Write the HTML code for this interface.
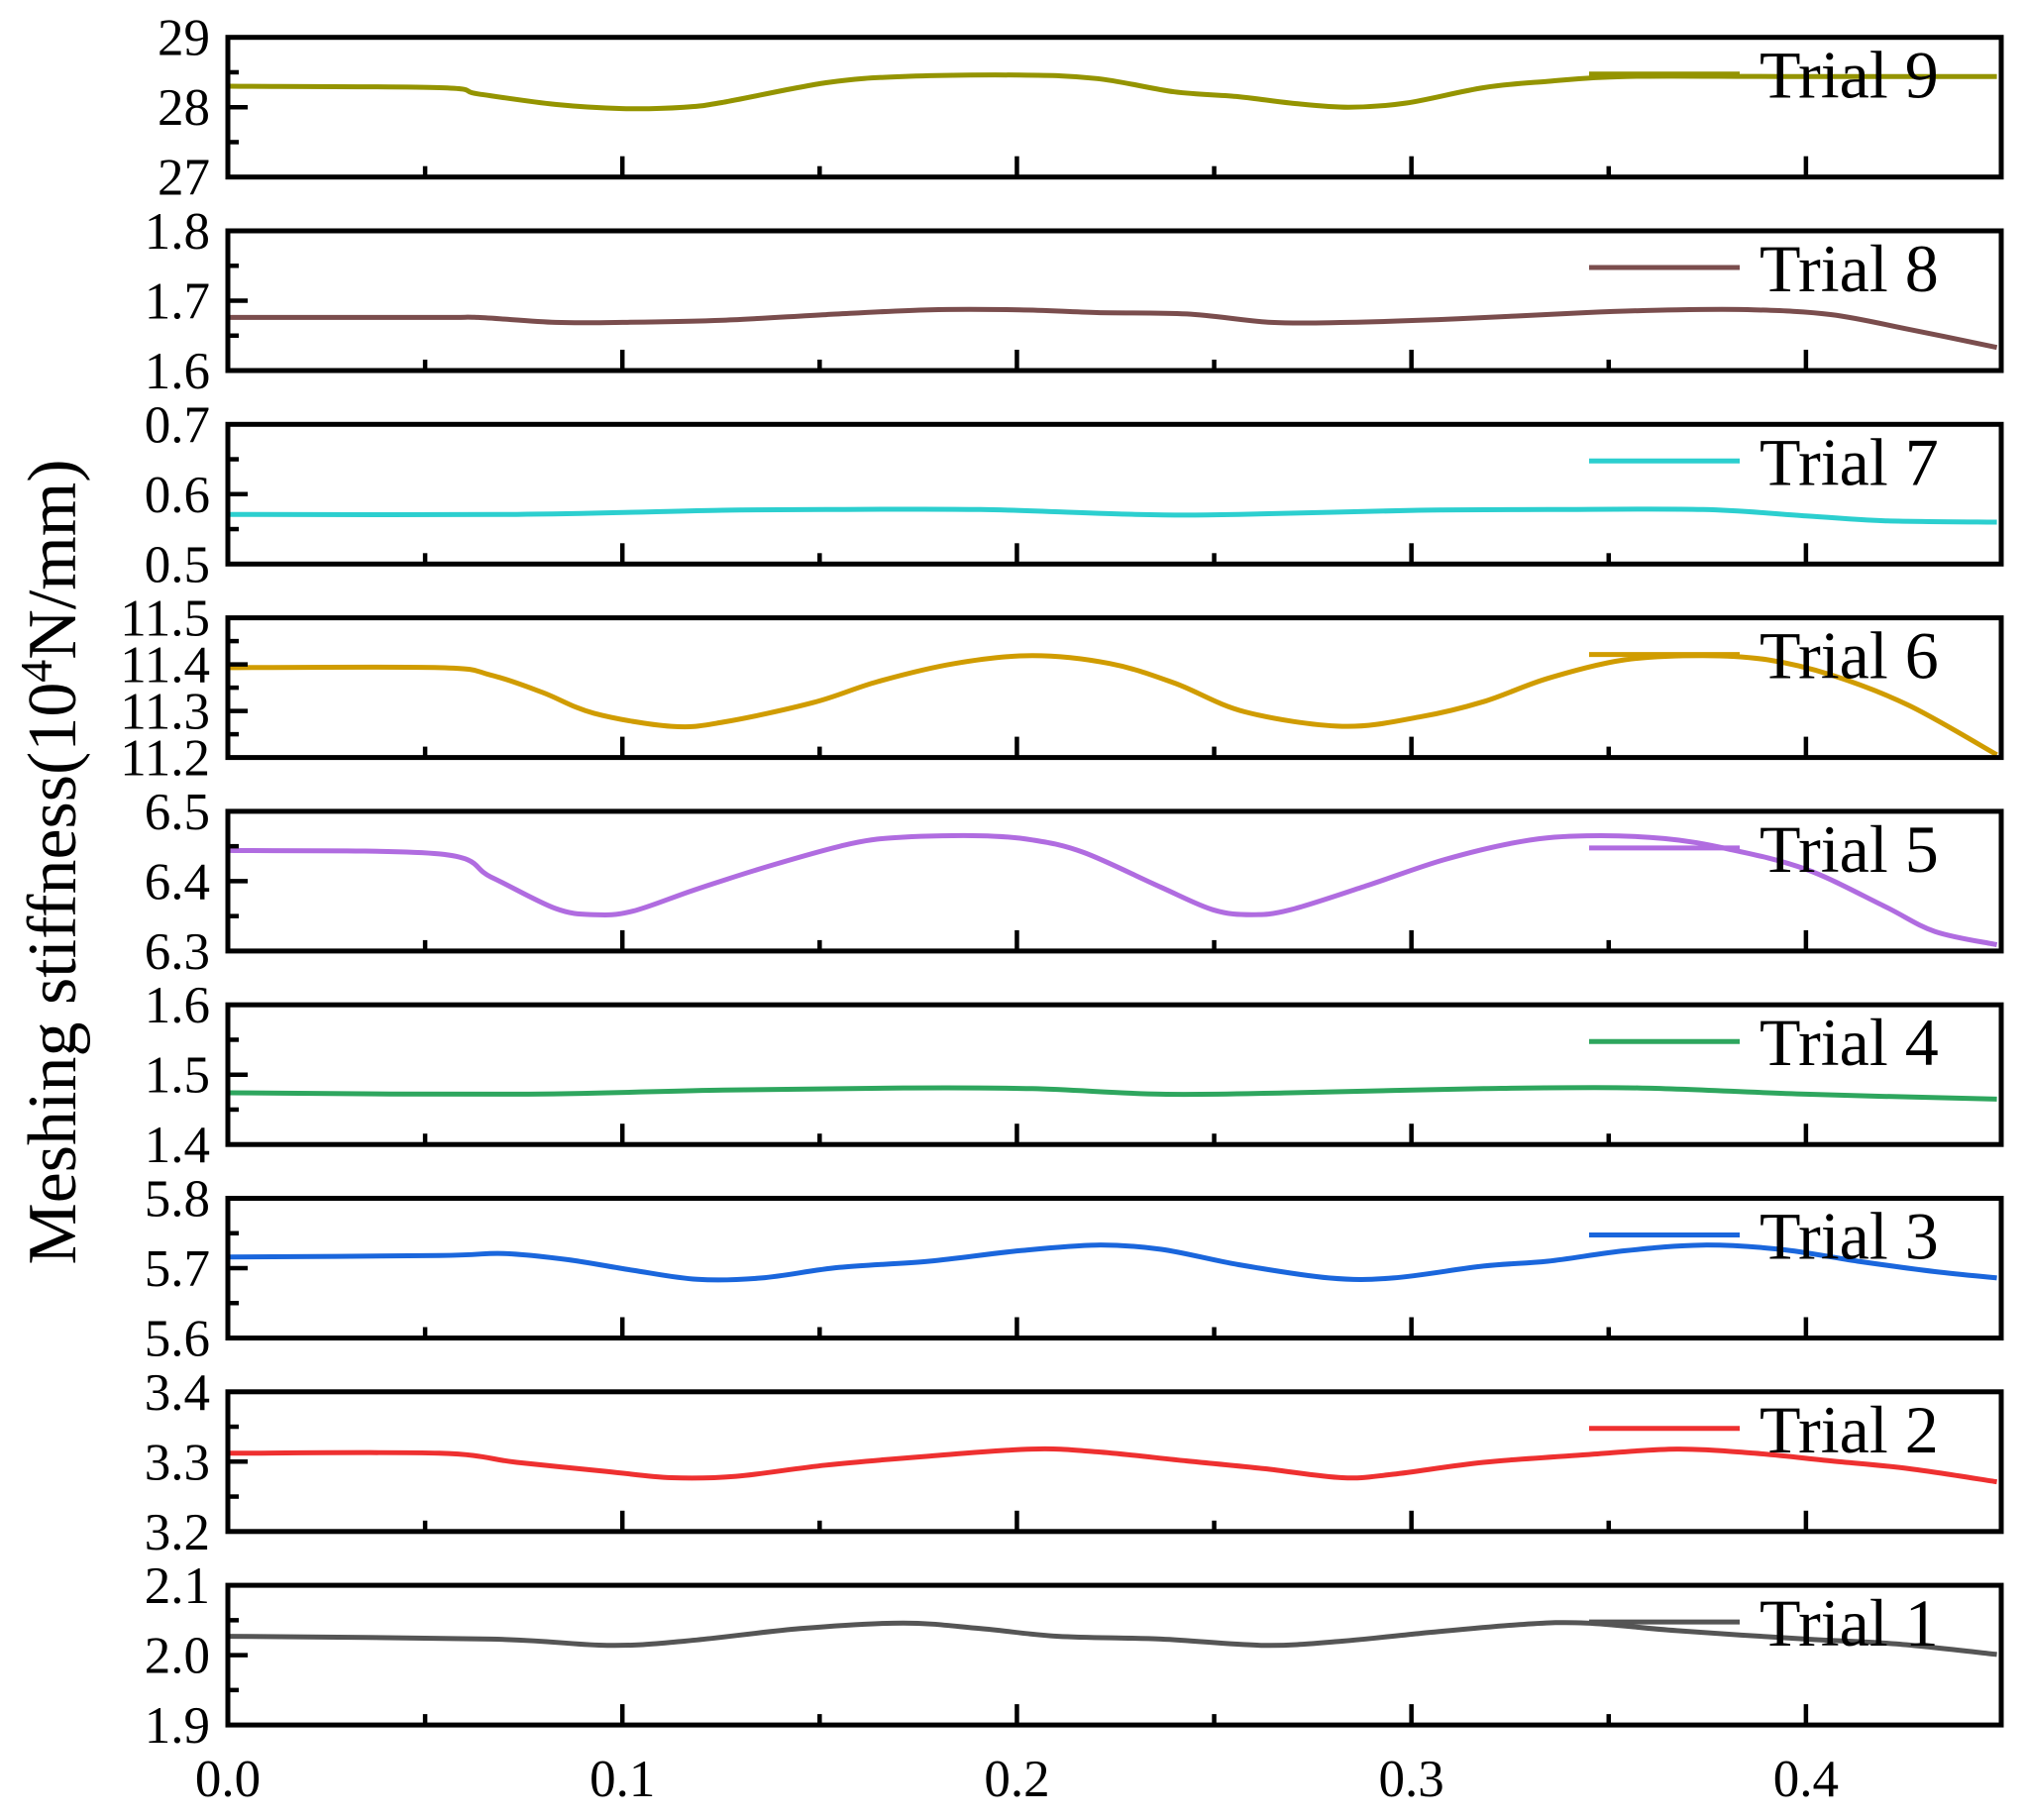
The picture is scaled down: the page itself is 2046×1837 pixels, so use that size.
<!DOCTYPE html>
<html><head><meta charset="utf-8"><style>
html,body{margin:0;padding:0;background:#fff;}
svg{display:block;font-family:"Liberation Serif",serif;}
</style></head><body>
<svg id="chart" width="2046" height="1837" viewBox="0 0 2046 1837" xmlns="http://www.w3.org/2000/svg"></svg>
<script>
const xTicks = [0.0, 0.1, 0.2, 0.3, 0.4];
const xTickLabels = ["0.0", "0.1", "0.2", "0.3", "0.4"];
const trialNames = ["Trial 9","Trial 8","Trial 7","Trial 6","Trial 5","Trial 4","Trial 3","Trial 2","Trial 1"];
const trialColors = ["#949400","#7a4d4d","#2ccfcf","#d09c00","#b06ce0","#2ea65e","#1a66dc","#ee3030","#555555"];
const yMins = [27, 1.6, 0.5, 11.2, 6.3, 1.4, 5.6, 3.2, 1.9];
const yMaxs = [29, 1.8, 0.7, 11.5, 6.5, 1.6, 5.8, 3.4, 2.1];
const yTickLabels = [["27","28","29"],["1.6","1.7","1.8"],["0.5","0.6","0.7"],["11.2","11.3","11.4","11.5"],["6.3","6.4","6.5"],["1.4","1.5","1.6"],["5.6","5.7","5.8"],["3.2","3.3","3.4"],["1.9","2.0","2.1"]];
const x9 = [0,.0536,.0634,.0830,.1,.1157,.1255,.1516,.1712,.2007,.2203,.2399,.2562,.2693,.2840,.2987,.3183,.3346,.3542,.3935,.4484];
const y9 = [28.30,28.28,28.19,28.04,27.98,28.0,28.07,28.35,28.44,28.46,28.41,28.22,28.15,28.06,28.0,28.06,28.28,28.37,28.44,28.44,28.44];
const x8 = [0,.0536,.0634,.0830,.1,.1255,.1516,.1778,.2007,.2203,.2431,.2644,.2840,.3118,.3444,.3673,.3869,.4065,.4261,.4484];
const y8 = [1.676,1.676,1.676,1.669,1.669,1.672,1.680,1.687,1.687,1.683,1.681,1.669,1.669,1.674,1.683,1.687,1.687,1.680,1.659,1.633];
const x7 = [0,.0732,.1255,.1516,.1908,.2301,.2562,.3020,.3346,.3739,.4,.4196,.4484];
const y7 = [0.571,0.571,0.577,0.578,0.578,0.571,0.571,0.577,0.578,0.578,0.569,0.562,0.560];
const x6 = [0,.0536,.0667,.0797,.0928,.1124,.1255,.1484,.1647,.1843,.2039,.2235,.2399,.2578,.2824,.3020,.3183,.3346,.3542,.3739,.3902,.4065,.4261,.4484];
const y6 = [11.393,11.393,11.377,11.34,11.295,11.267,11.276,11.318,11.363,11.402,11.419,11.402,11.36,11.298,11.267,11.287,11.32,11.37,11.41,11.419,11.41,11.377,11.312,11.206];
const x5 = [0,.0536,.0667,.0830,.0928,.1026,.1190,.1386,.1582,.1712,.1908,.2039,.2170,.2366,.2497,.2595,.2693,.2889,.3085,.3281,.3444,.3641,.3804,.4,.4196,.4327,.4484];
const y5 = [6.444,6.439,6.406,6.361,6.352,6.357,6.389,6.424,6.454,6.463,6.465,6.459,6.441,6.391,6.359,6.352,6.359,6.394,6.431,6.457,6.465,6.461,6.446,6.417,6.365,6.328,6.309];
const x4 = [0,.0732,.1255,.1712,.2039,.2366,.2693,.3183,.3575,.4,.4484];
const y4 = [1.474,1.472,1.478,1.481,1.480,1.472,1.474,1.480,1.481,1.472,1.465];
const x3 = [0,.0536,.0699,.0863,.1026,.1190,.1353,.1549,.1778,.2007,.2203,.2366,.2562,.2791,.2954,.3183,.3346,.3542,.3739,.3935,.4131,.4327,.4484];
const y3 = [5.716,5.718,5.721,5.712,5.697,5.684,5.686,5.701,5.710,5.725,5.733,5.727,5.705,5.686,5.686,5.703,5.710,5.725,5.733,5.727,5.710,5.695,5.686];
const x2 = [0,.0536,.0732,.0961,.1124,.1288,.1516,.1778,.2039,.2203,.2431,.2627,.2824,.2954,.3183,.3444,.3673,.3869,.4065,.4261,.4484];
const y2 = [3.312,3.312,3.299,3.286,3.277,3.279,3.295,3.308,3.318,3.314,3.301,3.290,3.277,3.282,3.299,3.310,3.318,3.312,3.301,3.290,3.271];
const x1 = [0,.0667,.0961,.1157,.1451,.1712,.1908,.2105,.2366,.2627,.2824,.3020,.3281,.3444,.3673,.4,.4229,.4484];
const y1 = [2.027,2.023,2.014,2.020,2.038,2.046,2.038,2.027,2.023,2.014,2.020,2.031,2.044,2.046,2.035,2.023,2.016,2.001];
const seriesX = [x9,x8,x7,x6,x5,x4,x3,x2,x1];
const seriesY = [y9,y8,y7,y6,y5,y4,y3,y2,y1];

const NS = "http://www.w3.org/2000/svg";
const svg = document.getElementById('chart');
const L = 230, R = 2020, TOP0 = 37.7, STEP = 195.3, H = 141, XMAX = 0.4495;
function sx(v){ return L + v/XMAX*(R-L); }
function mk(tag, attrs, parent){ const e=document.createElementNS(NS,tag); for(const k in attrs) e.setAttribute(k,attrs[k]); (parent||svg).appendChild(e); return e; }
function smoothPath(pts){
  let d = 'M' + pts[0][0].toFixed(1) + ',' + pts[0][1].toFixed(1);
  for (let i=0;i<pts.length-1;i++){
    const p0 = pts[Math.max(0,i-1)], p1 = pts[i], p2 = pts[i+1], p3 = pts[Math.min(pts.length-1,i+2)];
    const c1x = p1[0] + (p2[0]-p0[0])/6, c1y = p1[1] + (p2[1]-p0[1])/6;
    const c2x = p2[0] - (p3[0]-p1[0])/6, c2y = p2[1] - (p3[1]-p1[1])/6;
    d += 'C' + c1x.toFixed(1)+','+c1y.toFixed(1)+' '+c2x.toFixed(1)+','+c2y.toFixed(1)+' '+p2[0].toFixed(1)+','+p2[1].toFixed(1);
  }
  return d;
}

for (let i=0;i<9;i++){
  const top = TOP0 + i*STEP, bot = top + H;
  const mn = yMins[i], mx = yMaxs[i];
  const sy = v => bot - (v-mn)/(mx-mn)*H;
  const g = mk('g',{});
  
  
  const clipId='c'+i;
  const cp = mk('clipPath',{id:clipId},g); mk('rect',{x:L,y:top,width:R-L,height:H},cp);
  const xs = seriesX[i], ys = seriesY[i];
  const pts = xs.map((x,k)=>[sx(x), sy(ys[k])]);
  const line = mk('path',{d:smoothPath(pts),fill:'none',stroke:trialColors[i],'stroke-width':5,'stroke-linejoin':'round','clip-path':'url(#'+clipId+')'},g);
  
  
  const ly = top + 37;
  const lg = mk('line',{x1:1604,x2:1756,y1:ly,y2:ly,stroke:trialColors[i],'stroke-width':5},g);
  
  
  const lt = mk('text',{x:1776,y:ly+24,'font-size':68,fill:'#000'},g);
  lt.textContent = trialNames[i];
  
  
  const labs = yTickLabels[i];
  const nMaj = labs.length - 1;
  const majStep = (mx-mn)/nMaj;
  for (let k=0;k<=nMaj;k++){
    const v = mn + k*majStep;
    const y = sy(v);
    if (k>0 && k<nMaj) mk('line',{x1:L,x2:L+20,y1:y,y2:y,stroke:'#000','stroke-width':4.5},g);
    const t = mk('text',{x:212,y:y+18,'text-anchor':'end','font-size':53,fill:'#000'},g);
    t.textContent = labs[k];
    
    
    if (k<nMaj){ const ym = sy(v+majStep/2); mk('line',{x1:L,x2:L+11,y1:ym,y2:ym,stroke:'#000','stroke-width':4.5},g); }
  }
  for (let v=0.05; v<XMAX; v+=0.05){
    const major = Math.abs(v*10 - Math.round(v*10))<1e-6;
    const x = sx(v);
    mk('line',{x1:x,x2:x,y1:bot,y2:bot-(major?21:11),stroke:'#000','stroke-width':4.5},g);
  }
  const frame = mk('rect',{x:L,y:top,width:R-L,height:H,fill:'none',stroke:'#000','stroke-width':5},g);
  
  
}
const botAxis = TOP0 + 8*STEP + H;
for (let k=0;k<xTicks.length;k++){
  const t = mk('text',{x:sx(xTicks[k]),y:botAxis+72,'text-anchor':'middle','font-size':53,fill:'#000'});
  t.textContent = xTickLabels[k];
  
  
}
const yt = mk('text',{x:0,y:0,transform:'translate(76,870) rotate(-90)','text-anchor':'middle','font-size':70,fill:'#000'});
yt.innerHTML = 'Meshing stiffness(10<tspan dy="-24" font-size="46">4</tspan><tspan dy="24">N/mm)</tspan>';


</script>
</body></html>
